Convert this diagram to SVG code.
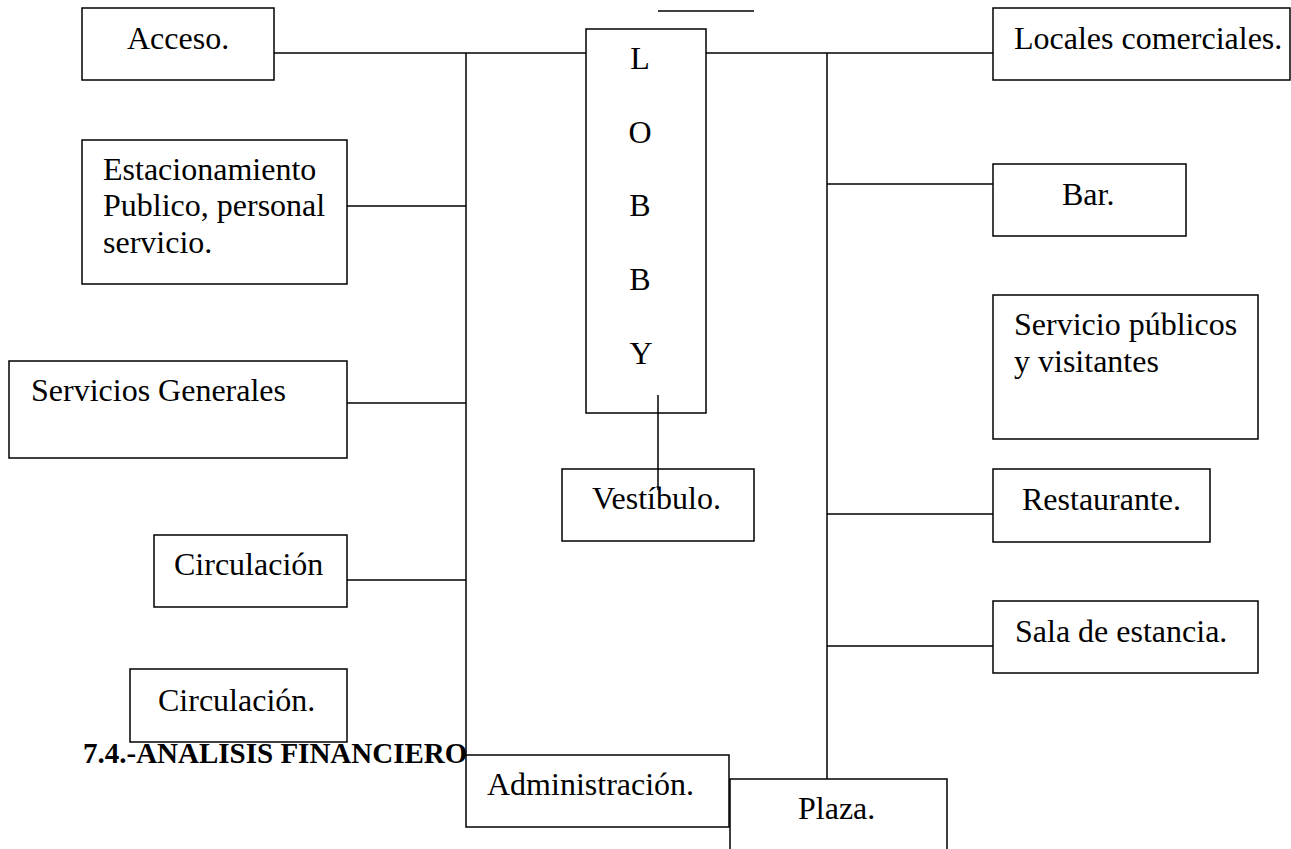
<svg xmlns="http://www.w3.org/2000/svg" width="1291" height="849" viewBox="0 0 1291 849">
<style>
  .box{fill:#fff;stroke:#000;stroke-width:1.5}
  .t{font-family:"Liberation Serif","Times New Roman",serif;font-size:32px;fill:#000}
  .c{text-anchor:middle}
  .h{font-family:"Liberation Serif","Times New Roman",serif;font-size:29px;font-weight:bold;fill:#000}
  .ln{stroke:#000;stroke-width:1.5;fill:none}
</style>
<rect x="0" y="0" width="1291" height="849" fill="#fff"/>
<g id="connectors">
  <line class="ln" x1="274" y1="53" x2="586" y2="53"/>
  <line class="ln" x1="466" y1="53" x2="466" y2="756"/>
  <line class="ln" x1="347" y1="206" x2="466" y2="206"/>
  <line class="ln" x1="347" y1="403" x2="466" y2="403"/>
  <line class="ln" x1="347" y1="580" x2="466" y2="580"/>
  <line class="ln" x1="706" y1="53" x2="993" y2="53"/>
  <line class="ln" x1="827" y1="53" x2="827" y2="779"/>
  <line class="ln" x1="827" y1="184" x2="993" y2="184"/>
  <line class="ln" x1="827" y1="514" x2="993" y2="514"/>
  <line class="ln" x1="827" y1="646" x2="993" y2="646"/>
  <line class="ln" x1="658" y1="395" x2="658" y2="490"/>
  <line class="ln" x1="658" y1="11" x2="754" y2="11"/>
</g>
<g id="lobby">
  <rect class="box" x="586" y="29" width="120" height="384"/>
  <text class="t c" x="640" y="69">L</text>
  <text class="t c" x="640" y="143">O</text>
  <text class="t c" x="640" y="216">B</text>
  <text class="t c" x="640" y="290">B</text>
  <text class="t c" x="641" y="364">Y</text>
</g>
<line class="ln" x1="658" y1="395" x2="658" y2="413"/>
<g id="acceso">
  <rect class="box" x="82" y="8" width="192" height="72"/>
  <text class="t" x="127" y="49">Acceso.</text>
</g>
<g id="estacionamiento">
  <rect class="box" x="82" y="140" width="265" height="144"/>
  <text class="t" x="103" y="180">Estacionamiento</text>
  <text class="t" x="103" y="216">Publico, personal</text>
  <text class="t" x="103" y="253">servicio.</text>
</g>
<g id="servicios-generales">
  <rect class="box" x="9" y="361" width="338" height="97"/>
  <text class="t" x="31" y="401">Servicios Generales</text>
</g>
<g id="circulacion1">
  <rect class="box" x="154" y="535" width="193" height="72"/>
  <text class="t" x="174" y="575">Circulación</text>
</g>
<g id="circulacion2">
  <rect class="box" x="130" y="669" width="217" height="73"/>
  <text class="t" x="158" y="711">Circulación.</text>
</g>
<g id="heading">
  <text class="h" x="83" y="763">7.4.-ANALISIS FINANCIERO</text>
</g>
<g id="vestibulo">
  <rect class="box" x="562" y="469" width="192" height="72"/>
  <text class="t" x="592" y="509">Vestíbulo.</text>
</g>
<line class="ln" x1="658" y1="469" x2="658" y2="490"/>
<g id="administracion">
  <rect class="box" x="466" y="755" width="263" height="72"/>
  <text class="t" x="487" y="795">Administración.</text>
</g>
<g id="plaza">
  <rect class="box" x="730" y="779" width="217" height="90"/>
  <text class="t" x="798" y="819">Plaza.</text>
</g>
<g id="locales">
  <rect class="box" x="993" y="8" width="297" height="72"/>
  <text class="t" x="1014" y="49">Locales comerciales.</text>
</g>
<g id="bar">
  <rect class="box" x="993" y="164" width="193" height="72"/>
  <text class="t" x="1062" y="205">Bar.</text>
</g>
<g id="servicio-publicos">
  <rect class="box" x="993" y="295" width="265" height="144"/>
  <text class="t" x="1014" y="335">Servicio públicos</text>
  <text class="t" x="1014" y="372">y visitantes</text>
</g>
<g id="restaurante">
  <rect class="box" x="993" y="469" width="217" height="73"/>
  <text class="t" x="1022" y="510">Restaurante.</text>
</g>
<g id="sala">
  <rect class="box" x="993" y="601" width="265" height="72"/>
  <text class="t" x="1015" y="642">Sala de estancia.</text>
</g>
</svg>
